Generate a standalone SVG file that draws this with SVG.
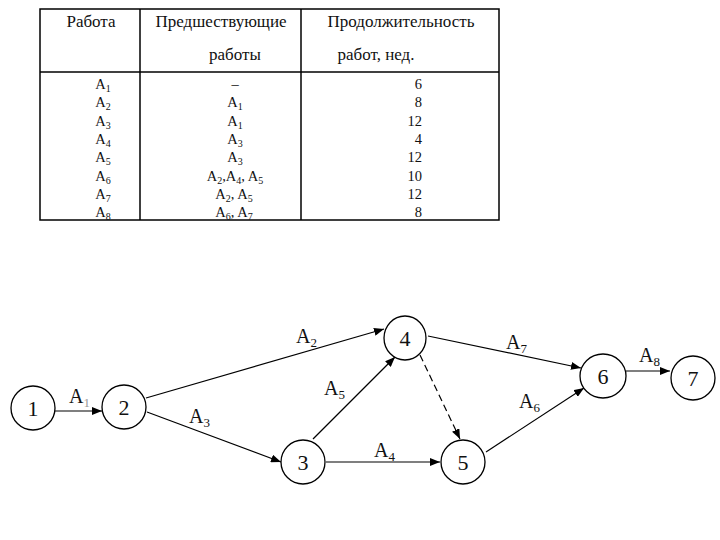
<svg xmlns="http://www.w3.org/2000/svg" width="720" height="540" viewBox="0 0 720 540">
<style>
text{font-family:"Liberation Serif","Times New Roman",serif;fill:#111}
.h{font-size:17px}
.t{font-size:14.5px}
.s{font-size:10px}
.lb{font-size:20px}
.ls{font-size:13px}
.n{font-size:22px;text-anchor:middle}
.tl{stroke:#000;stroke-width:1.5;fill:none}
.e{stroke:#000;stroke-width:1.2;fill:none}
.nd{fill:#fff;stroke:#000;stroke-width:1.3}
</style>
<defs>
<marker id="ar" markerUnits="userSpaceOnUse" markerWidth="11" markerHeight="8" refX="10" refY="4" orient="auto">
<path d="M0,0 L10,4 L0,8 z" fill="#000"/>
</marker>
</defs>
<rect width="720" height="540" fill="#fff"/>
<g id="table">
<rect class="tl" x="40" y="9" width="459" height="211"/>
<line class="tl" x1="40" y1="72" x2="499" y2="72"/>
<line class="tl" x1="140" y1="9" x2="140" y2="220"/>
<line class="tl" x1="301" y1="9" x2="301" y2="220"/>
<text class="h" x="91" y="27" text-anchor="middle">Работа</text>
<text class="h" x="221" y="27" text-anchor="middle">Предшествующие</text>
<text class="h" x="235" y="60" text-anchor="middle">работы</text>
<text class="h" x="401" y="27" text-anchor="middle">Продолжительность</text>
<text class="h" x="376" y="60" text-anchor="middle">работ, нед.</text>
<g class="t">
<text x="103" y="89" text-anchor="middle">A<tspan class="s" dy="3">1</tspan></text>
<text x="103" y="107" text-anchor="middle">A<tspan class="s" dy="3">2</tspan></text>
<text x="103" y="126" text-anchor="middle">A<tspan class="s" dy="3">3</tspan></text>
<text x="103" y="144" text-anchor="middle">A<tspan class="s" dy="3">4</tspan></text>
<text x="103" y="162" text-anchor="middle">A<tspan class="s" dy="3">5</tspan></text>
<text x="103" y="181" text-anchor="middle">A<tspan class="s" dy="3">6</tspan></text>
<text x="103" y="199" text-anchor="middle">A<tspan class="s" dy="3">7</tspan></text>
<text x="103" y="217" text-anchor="middle">A<tspan class="s" dy="3">8</tspan></text>
<text x="235" y="89" text-anchor="middle">–</text>
<text x="235" y="107" text-anchor="middle">A<tspan class="s" dy="3">1</tspan></text>
<text x="235" y="126" text-anchor="middle">A<tspan class="s" dy="3">1</tspan></text>
<text x="235" y="144" text-anchor="middle">A<tspan class="s" dy="3">3</tspan></text>
<text x="235" y="162" text-anchor="middle">A<tspan class="s" dy="3">3</tspan></text>
<text x="235" y="181" text-anchor="middle">A<tspan class="s" dy="3">2</tspan><tspan dy="-3">,A</tspan><tspan class="s" dy="3">4</tspan><tspan dy="-3">, A</tspan><tspan class="s" dy="3">5</tspan></text>
<text x="234" y="199" text-anchor="middle">A<tspan class="s" dy="3">2</tspan><tspan dy="-3">, A</tspan><tspan class="s" dy="3">5</tspan></text>
<text x="234" y="217" text-anchor="middle">A<tspan class="s" dy="3">6</tspan><tspan dy="-3">, A</tspan><tspan class="s" dy="3">7</tspan></text>
<text x="422" y="89" text-anchor="end">6</text>
<text x="422" y="107" text-anchor="end">8</text>
<text x="422" y="126" text-anchor="end">12</text>
<text x="422" y="144" text-anchor="end">4</text>
<text x="422" y="162" text-anchor="end">12</text>
<text x="422" y="181" text-anchor="end">10</text>
<text x="422" y="199" text-anchor="end">12</text>
<text x="422" y="217" text-anchor="end">8</text>
</g>
</g>
<g id="connectors">
<line class="e" x1="55" y1="411" x2="102" y2="411" marker-end="url(#ar)"/>
<line class="e" x1="146" y1="398" x2="384" y2="329" marker-end="url(#ar)"/>
<line class="e" x1="147" y1="412" x2="281" y2="462" marker-end="url(#ar)"/>
<line class="e" x1="313" y1="439" x2="395" y2="357" marker-end="url(#ar)"/>
<line class="e" x1="326" y1="462" x2="440" y2="462" marker-end="url(#ar)"/>
<line class="e" x1="420" y1="355" x2="460" y2="439" stroke-dasharray="7,4" marker-end="url(#ar)"/>
<line class="e" x1="428" y1="336" x2="581" y2="368" marker-end="url(#ar)"/>
<line class="e" x1="486" y1="452" x2="584" y2="388" marker-end="url(#ar)"/>
<line class="e" x1="626" y1="371" x2="670" y2="371" stroke="#999" marker-end="url(#ar)"/>
<g class="lb">
<text x="69" y="403">A<tspan class="ls" dy="4" fill="#999">1</tspan></text>
<text x="296" y="343">A<tspan class="ls" dy="4">2</tspan></text>
<text x="189" y="423">A<tspan class="ls" dy="4">3</tspan></text>
<text x="374" y="457">A<tspan class="ls" dy="4">4</tspan></text>
<text x="324" y="395">A<tspan class="ls" dy="4">5</tspan></text>
<text x="519" y="408">A<tspan class="ls" dy="4">6</tspan></text>
<text x="506" y="349">A<tspan class="ls" dy="4">7</tspan></text>
<text x="639" y="362">A<tspan class="ls" dy="4">8</tspan></text>
</g>
</g>
<g id="node1"><ellipse class="nd" cx="33" cy="408" rx="22" ry="22"/><text class="n" x="33" y="416">1</text></g>
<g id="node2"><ellipse class="nd" cx="124" cy="407" rx="22" ry="22"/><text class="n" x="124" y="415">2</text></g>
<g id="node3"><ellipse class="nd" cx="303" cy="462" rx="22" ry="22"/><text class="n" x="303" y="470">3</text></g>
<g id="node4"><ellipse class="nd" cx="405" cy="338" rx="21" ry="22"/><text class="n" x="405" y="346">4</text></g>
<g id="node5"><ellipse class="nd" cx="463" cy="462" rx="22" ry="22"/><text class="n" x="463" y="470">5</text></g>
<g id="node6"><ellipse class="nd" cx="603" cy="376" rx="23" ry="22"/><text class="n" x="603" y="384">6</text></g>
<g id="node7"><ellipse class="nd" cx="693" cy="378" rx="22" ry="22"/><text class="n" x="693" y="386">7</text></g>
</svg>
